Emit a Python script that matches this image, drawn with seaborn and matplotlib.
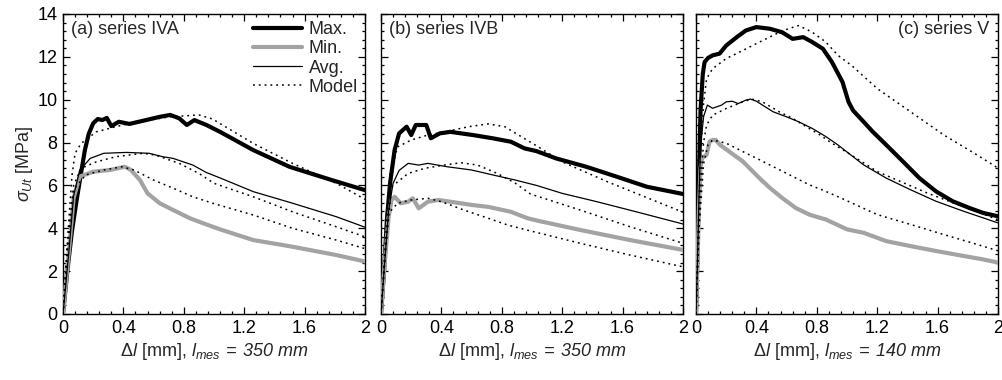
import matplotlib
matplotlib.use("Agg")
import matplotlib.pyplot as plt
import seaborn as sns
from matplotlib.ticker import MultipleLocator, FixedLocator, FixedFormatter

# ---------------- data ----------------
# Panel (a) series IVA
max_a_x = [0, 0.03, 0.06, 0.09, 0.12, 0.145, 0.17, 0.20, 0.23, 0.26, 0.29, 0.32, 0.37, 0.44, 0.55, 0.64, 0.71, 0.77, 0.82, 0.87, 0.95, 1.04, 1.26, 1.50, 1.78, 2.0]
max_a_y = [0, 2.1, 3.9, 5.3, 6.6, 7.65, 8.4, 8.9, 9.1, 9.05, 9.15, 8.77, 8.97, 8.87, 9.05, 9.2, 9.29, 9.13, 8.82, 9.05, 8.82, 8.5, 7.65, 6.87, 6.25, 5.78]
min_a_x = [0, 0.04, 0.07, 0.11, 0.2, 0.31, 0.41, 0.45, 0.51, 0.56, 0.64, 0.73, 0.84, 0.93, 1.04, 1.26, 1.52, 1.81, 2.0]
min_a_y = [0, 3.0, 5.4, 6.41, 6.64, 6.72, 6.87, 6.72, 6.25, 5.63, 5.17, 4.85, 4.47, 4.23, 3.95, 3.45, 3.14, 2.75, 2.45]
avg_a_x = [0, 0.04, 0.07, 0.11, 0.18, 0.27, 0.42, 0.57, 0.66, 0.73, 0.86, 0.95, 1.04, 1.26, 1.52, 1.81, 2.0]
avg_a_y = [0, 3.0, 5.5, 6.7, 7.26, 7.5, 7.54, 7.5, 7.34, 7.26, 6.95, 6.6, 6.35, 5.71, 5.17, 4.54, 4.05]
mmax_a_x = [0, 0.03, 0.06, 0.08, 0.12, 0.22, 0.35, 0.49, 0.71, 0.90, 0.99, 1.26, 1.52, 1.81, 2.0]
mmax_a_y = [0, 3.5, 6.5, 7.5, 7.96, 8.5, 8.74, 8.97, 9.2, 9.29, 9.1, 7.96, 7.03, 6.1, 5.35]
mavg_a_x = [0, 0.03, 0.07, 0.12, 0.22, 0.35, 0.53, 0.61, 0.77, 0.90, 1.0, 1.26, 1.52, 1.81, 2.0]
mavg_a_y = [0, 3.2, 6.0, 6.8, 7.1, 7.34, 7.5, 7.42, 7.03, 6.56, 6.1, 5.47, 4.77, 4.07, 3.6]
mmin_a_x = [0, 0.03, 0.07, 0.15, 0.27, 0.39, 0.47, 0.6, 0.73, 0.86, 1.0, 1.26, 1.52, 1.81, 2.0]
mmin_a_y = [0, 3.0, 5.8, 6.49, 6.72, 6.87, 6.72, 6.25, 5.87, 5.47, 5.15, 4.62, 4.0, 3.45, 3.05]

# Panel (b) series IVB
max_b_x = [0, 0.02, 0.04, 0.06, 0.09, 0.12, 0.17, 0.20, 0.23, 0.30, 0.33, 0.39, 0.46, 0.61, 0.74, 0.86, 0.95, 1.03, 1.16, 1.36, 1.56, 1.76, 2.0]
max_b_y = [0, 2.0, 4.5, 6.1, 7.65, 8.43, 8.74, 8.35, 8.82, 8.82, 8.2, 8.43, 8.5, 8.35, 8.2, 8.04, 7.73, 7.6, 7.26, 6.87, 6.41, 5.94, 5.6]
min_b_x = [0, 0.02, 0.05, 0.07, 0.09, 0.13, 0.18, 0.21, 0.25, 0.31, 0.38, 0.46, 0.6, 0.71, 0.86, 0.97, 1.04, 1.32, 1.65, 2.0]
min_b_y = [0, 2.0, 4.5, 5.32, 5.47, 5.17, 5.24, 5.4, 4.93, 5.24, 5.32, 5.24, 5.09, 5.0, 4.77, 4.47, 4.35, 3.92, 3.45, 2.99]
avg_b_x = [0, 0.02, 0.05, 0.08, 0.12, 0.18, 0.25, 0.31, 0.44, 0.6, 0.74, 0.89, 1.03, 1.2, 1.43, 1.69, 2.0]
avg_b_y = [0, 2.0, 4.8, 6.1, 6.7, 7.03, 6.95, 7.03, 6.87, 6.72, 6.49, 6.25, 6.0, 5.63, 5.24, 4.77, 4.2]
mmax_b_x = [0, 0.03, 0.06, 0.11, 0.20, 0.31, 0.42, 0.58, 0.71, 0.82, 0.93, 1.03, 1.2, 1.5, 1.8, 2.0]
mmax_b_y = [0, 3.5, 6.5, 7.8, 8.12, 8.35, 8.5, 8.74, 8.87, 8.74, 8.27, 7.85, 7.1, 6.17, 5.32, 4.75]
mavg_b_x = [0, 0.03, 0.07, 0.18, 0.29, 0.42, 0.53, 0.64, 0.77, 0.89, 0.99, 1.32, 1.65, 2.0]
mavg_b_y = [0, 3.0, 5.94, 6.56, 6.8, 6.95, 7.06, 6.95, 6.56, 6.1, 5.6, 4.85, 4.07, 3.3]
mmin_b_x = [0, 0.03, 0.05, 0.11, 0.20, 0.31, 0.40, 0.55, 0.68, 0.84, 1.0, 1.32, 1.65, 2.0]
mmin_b_y = [0, 3.0, 4.7, 5.17, 5.32, 5.4, 5.24, 4.85, 4.54, 4.15, 3.86, 3.3, 2.75, 2.2]

# Panel (c) series V
max_c_x = [0, 0.01, 0.02, 0.03, 0.045, 0.057, 0.08, 0.11, 0.156, 0.2, 0.27, 0.33, 0.40, 0.49, 0.57, 0.64, 0.71, 0.77, 0.84, 0.90, 0.97, 1.01, 1.04, 1.11, 1.17, 1.26, 1.37, 1.48, 1.59, 1.70, 1.81, 1.90, 2.0]
max_c_y = [0, 3, 6.5, 9.5, 11.2, 11.76, 11.95, 12.07, 12.15, 12.53, 12.92, 13.23, 13.39, 13.31, 13.15, 12.84, 12.92, 12.69, 12.38, 11.76, 10.83, 9.9, 9.5, 8.97, 8.51, 7.89, 7.12, 6.34, 5.72, 5.26, 4.95, 4.72, 4.56]
min_c_x = [0, 0.01, 0.02, 0.03, 0.04, 0.07, 0.09, 0.11, 0.13, 0.16, 0.22, 0.31, 0.42, 0.49, 0.57, 0.66, 0.75, 0.82, 0.86, 0.93, 1.0, 1.11, 1.26, 1.42, 1.59, 1.77, 1.90, 2.0]
min_c_y = [0, 2.5, 5.0, 6.8, 7.27, 7.43, 8.05, 8.12, 8.12, 7.89, 7.58, 7.12, 6.34, 5.88, 5.42, 4.95, 4.64, 4.49, 4.41, 4.18, 3.95, 3.79, 3.4, 3.17, 2.94, 2.71, 2.55, 2.4]
avg_c_x = [0, 0.01, 0.02, 0.03, 0.05, 0.075, 0.11, 0.17, 0.2, 0.24, 0.28, 0.33, 0.36, 0.40, 0.44, 0.51, 0.6, 0.68, 0.77, 0.86, 0.94, 1.02, 1.11, 1.26, 1.42, 1.59, 1.77, 1.90, 2.0]
avg_c_y = [0, 2.5, 5.5, 7.8, 9.2, 9.75, 9.6, 9.75, 9.9, 9.93, 9.82, 9.98, 10.03, 9.93, 9.75, 9.44, 9.2, 8.97, 8.66, 8.28, 7.89, 7.45, 6.96, 6.34, 5.8, 5.26, 4.8, 4.49, 4.25]
mmax_c_x = [0, 0.015, 0.03, 0.05, 0.07, 0.11, 0.2, 0.31, 0.42, 0.53, 0.61, 0.68, 0.77, 0.86, 0.94, 1.03, 1.2, 1.42, 1.64, 1.86, 2.0]
mmax_c_y = [0, 4, 7.5, 9.8, 10.98, 11.45, 11.92, 12.3, 12.69, 13.07, 13.31, 13.46, 13.15, 12.69, 12.07, 11.6, 10.52, 9.44, 8.36, 7.43, 6.81]
mavg_c_x = [0, 0.015, 0.03, 0.05, 0.07, 0.11, 0.2, 0.31, 0.37, 0.44, 0.55, 0.64, 0.73, 0.82, 0.90, 1.01, 1.2, 1.53, 2.0]
mavg_c_y = [0, 3, 6, 8.0, 8.82, 9.28, 9.59, 9.9, 10.03, 9.9, 9.44, 9.13, 8.74, 8.36, 7.97, 7.5, 6.65, 5.65, 4.4]
mmin_c_x = [0, 0.02, 0.05, 0.08, 0.11, 0.2, 0.31, 0.42, 0.53, 0.64, 0.75, 0.86, 0.97, 1.2, 1.42, 1.64, 1.86, 2.0]
mmin_c_y = [0, 4, 7.0, 7.9, 8.12, 7.97, 7.58, 7.2, 6.81, 6.42, 6.03, 5.72, 5.38, 4.64, 4.18, 3.71, 3.25, 2.95]

panel_titles = ["(a) series IVA", "(b) series IVB", "(c) series V"]
lmes = ["350", "350", "140"]
legend_labels = ["Max.", "Min.", "Avg.", "Model"]
x_ticks = [0, 0.4, 0.8, 1.2, 1.6, 2.0]
x_tick_labels = ["0", "0.4", "0.8", "1.2", "1.6", "2"]
y_ticks = [0, 2, 4, 6, 8, 10, 12, 14]

panels = [
    dict(mx=(max_a_x, max_a_y), mn=(min_a_x, min_a_y), av=(avg_a_x, avg_a_y),
         models=[(mmax_a_x, mmax_a_y), (mavg_a_x, mavg_a_y), (mmin_a_x, mmin_a_y)]),
    dict(mx=(max_b_x, max_b_y), mn=(min_b_x, min_b_y), av=(avg_b_x, avg_b_y),
         models=[(mmax_b_x, mmax_b_y), (mavg_b_x, mavg_b_y), (mmin_b_x, mmin_b_y)]),
    dict(mx=(max_c_x, max_c_y), mn=(min_c_x, min_c_y), av=(avg_c_x, avg_c_y),
         models=[(mmax_c_x, mmax_c_y), (mavg_c_x, mavg_c_y), (mmin_c_x, mmin_c_y)]),
]

# ---------------- style ----------------
sns.set_style("ticks")
plt.rcParams["font.family"] = ["Liberation Sans", "DejaVu Sans"]
plt.rcParams["mathtext.fontset"] = "custom"
plt.rcParams["mathtext.rm"] = "Liberation Sans"
plt.rcParams["mathtext.it"] = "Liberation Sans:italic"
plt.rcParams["mathtext.sf"] = "Liberation Sans:italic"
plt.rcParams["mathtext.bf"] = "Liberation Sans:bold"

FS = 13
fig = plt.figure(figsize=(10.03, 3.8), dpi=100)
lefts = [63 / 1003, 381 / 1003, 696 / 1003]
W = 302 / 1003
B = 66 / 380
H = 300 / 380

GRAY = "#a3a3a3"
dotted = (0, (1.2, 2.6))

for i, p in enumerate(panels):
    ax = fig.add_axes([lefts[i], B, W, H])
    sns.lineplot(x=p["mx"][0], y=p["mx"][1], ax=ax, color="black", lw=3.0,
                 estimator=None, sort=False, label=legend_labels[0] if i == 0 else None, zorder=3)
    sns.lineplot(x=p["mn"][0], y=p["mn"][1], ax=ax, color=GRAY, lw=3.0,
                 estimator=None, sort=False, label=legend_labels[1] if i == 0 else None, zorder=3)
    sns.lineplot(x=p["av"][0], y=p["av"][1], ax=ax, color="black", lw=0.9,
                 estimator=None, sort=False, label=legend_labels[2] if i == 0 else None, zorder=3)
    for k, (mxs, mys) in enumerate(p["models"]):
        sns.lineplot(x=mxs, y=mys, ax=ax, color="black", lw=1.1, linestyle=dotted,
                     estimator=None, sort=False,
                     label=legend_labels[3] if (i == 0 and k == 0) else None, zorder=4)

    ax.set_xlim(0, 2)
    ax.set_ylim(0, 14)
    ax.xaxis.set_major_locator(FixedLocator(x_ticks))
    ax.xaxis.set_major_formatter(FixedFormatter(x_tick_labels))
    ax.xaxis.set_minor_locator(MultipleLocator(0.08))
    ax.yaxis.set_major_locator(FixedLocator(y_ticks))
    ax.yaxis.set_minor_locator(MultipleLocator(0.4))
    ax.tick_params(which="both", direction="in", top=True, right=True, width=0.9, colors="black")
    ax.tick_params(which="major", length=5, labelsize=FS, pad=4)
    ax.tick_params(which="minor", length=2.5)
    for s in ax.spines.values():
        s.set_linewidth(1.0)
        s.set_color("black")
    if i != 0:
        ax.set_yticklabels([])
        ax.set_ylabel("")
    else:
        ax.set_ylabel(r"$\sigma_{Ut}$ [MPa]", fontsize=FS, labelpad=2)
    ax.set_xlabel(r"$\Delta\mathit{l}$ [mm], $\mathit{l}_{\mathit{mes}}\mathsf{\:=\:%s\ mm}$" % lmes[i],
                  fontsize=FS, labelpad=3)

    if i == 2:
        ax.text(0.97, 0.95, panel_titles[i], transform=ax.transAxes, ha="right", va="center", fontsize=FS)
    else:
        ax.text(0.025, 0.95, panel_titles[i], transform=ax.transAxes, ha="left", va="center", fontsize=FS)

    if i == 0:
        ax.legend(loc="upper right", frameon=False, fontsize=FS, handlelength=2.7,
                  handletextpad=0.35, labelspacing=0.12, borderaxespad=0.2, borderpad=0.2)
    else:
        leg = ax.get_legend()
        if leg is not None:
            leg.remove()

fig.savefig("out.png", dpi=100)
